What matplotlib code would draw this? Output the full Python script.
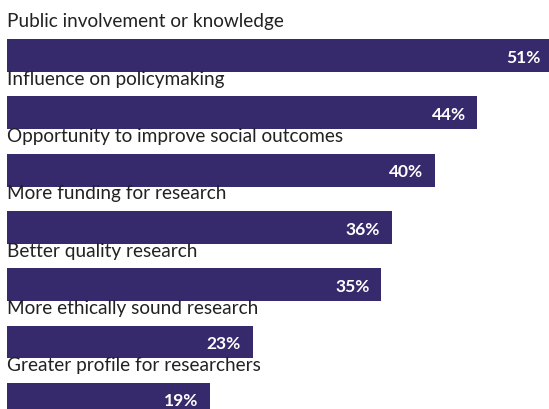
import matplotlib
matplotlib.use('Agg')
import matplotlib.pyplot as plt

plt.rcParams['font.family'] = ['Lato', 'DejaVu Sans']

benefits = ['Public involvement or knowledge',
            'Influence on policymaking',
            'Opportunity to improve social outcomes',
            'More funding for research',
            'Better quality research',
            'More ethically sound research',
            'Greater profile for researchers']
shares = [51, 44, 40, 36, 35, 23, 19]

bar_color = '#372a6c'
text_color = '#222222'

fig = plt.figure(figsize=(5.49, 4.10), dpi=100)
ax = fig.add_axes([7 / 549, 0, 542 / 549, 1])

pos = list(range(len(benefits)))
ax.barh(pos, shares, height=0.576, color=bar_color, align='center')

for i, (name, val) in enumerate(zip(benefits, shares)):
    # category name sits just above its bar
    ax.text(0, i - 0.51, name, ha='left', va='baseline',
            fontsize=13.7, color=text_color)
    ax.text(val - 1.1, i + 0.02, f'{val}%', ha='right', va='center',
            fontsize=12.5, fontweight='bold', color='white')

ax.set_xlim(0, 50.7)
ax.set_ylim(6.17, -0.99)
ax.axis('off')

fig.savefig('out.png', dpi=100)
